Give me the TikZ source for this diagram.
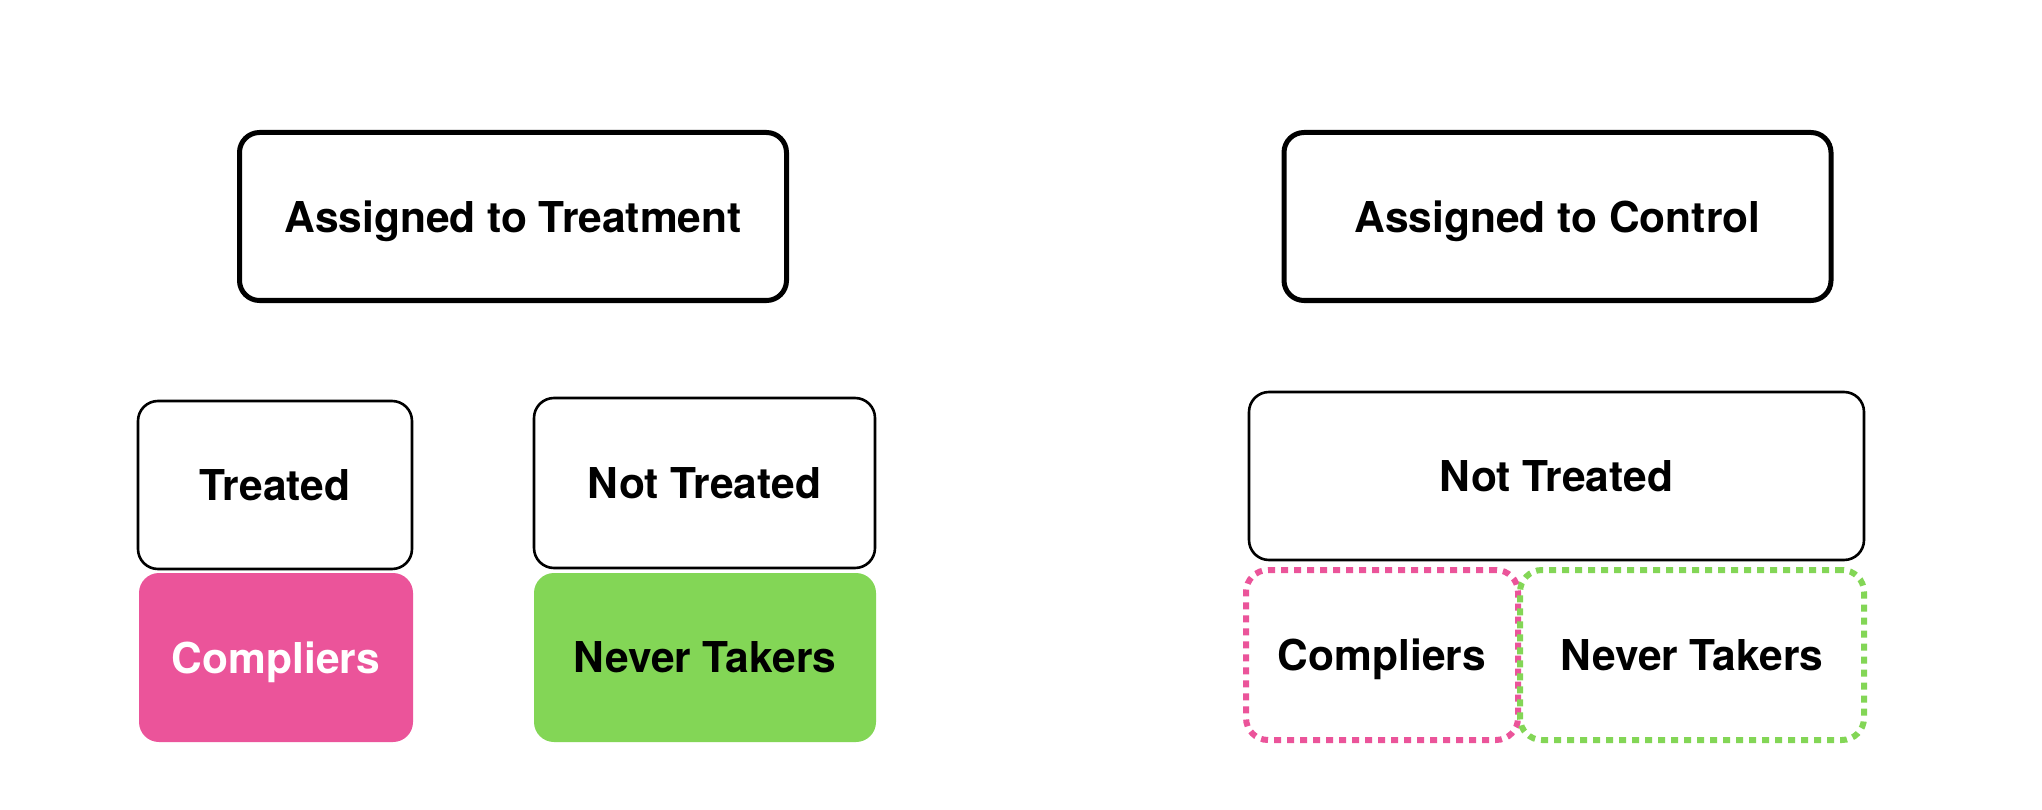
\documentclass[tikz,border=0pt]{standalone}
\usepackage{fontspec}
\setmainfont{TeX Gyre Heros}
\definecolor{cpink}{HTML}{EB549A}
\definecolor{cgreen}{HTML}{83D656}
\begin{document}
\begin{tikzpicture}[x=1pt,y=-1pt,
  lbl/.style={font=\fontsize{42.5}{50}\selectfont\bfseries, inner sep=0pt, text depth=0pt, align=center},
  topbox/.style={lbl, draw=black, line width=5pt, rounded corners=20pt, fill=white},
  midbox/.style={lbl, draw=black, line width=2.6pt, rounded corners=20pt, fill=white},
  solidfill/.style={lbl, rounded corners=20pt},
  dotbox/.style={lbl, line width=6pt, rounded corners=22pt, dash pattern=on 7pt off 6pt}]
\fill[white] (0,0) rectangle (2042,810);
\useasboundingbox (0,0) rectangle (2042,810);
% left group
\node[topbox, minimum width=547pt, minimum height=168pt] (at) at (513,216.5) {Assigned to Treatment};
\node[solidfill, fill=cpink, text=white, minimum width=274pt, minimum height=169pt] (co1) at (276,657.5) {Compliers};
\node[solidfill, fill=cgreen, text=black, minimum width=342pt, minimum height=169pt] (nk1) at (705,657.5) {Never Takers};
\node[midbox, minimum width=274pt, minimum height=168pt] (tr) at (275,485) {Treated};
\node[midbox, minimum width=341pt, minimum height=170pt] (nt1) at (704.5,483) {Not Treated};
% right group
\node[topbox, minimum width=547pt, minimum height=168pt] (ac) at (1557.5,216.5) {Assigned to Control};
\node[midbox, minimum width=615pt, minimum height=168pt] (nt2) at (1556.5,476) {Not Treated};
\node[dotbox, draw=cpink, minimum width=272pt, minimum height=170pt] (co2) at (1382,655) {Compliers};
\node[dotbox, draw=cgreen, minimum width=344pt, minimum height=170pt] (nk2) at (1692,655) {Never Takers};
\end{tikzpicture}
\end{document}
